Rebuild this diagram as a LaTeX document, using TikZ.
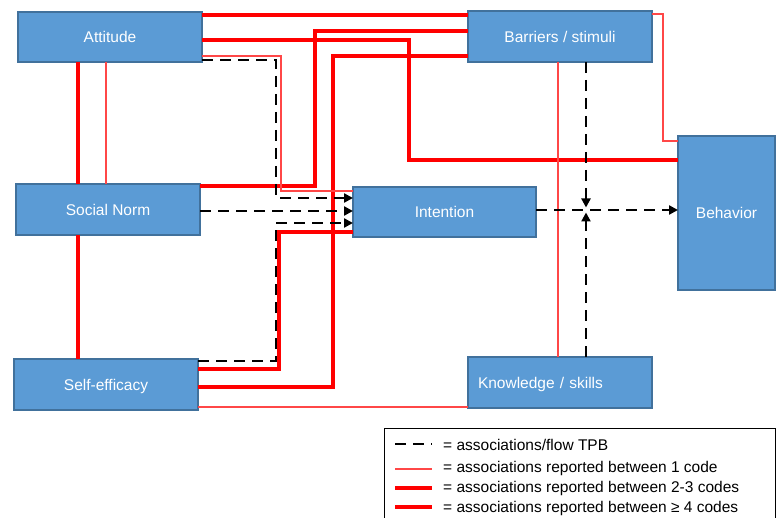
\documentclass[tikz,border=0pt]{standalone}
\usepackage{fontspec}
\setmainfont{Liberation Sans}
\usetikzlibrary{arrows.meta}
\definecolor{boxblue}{HTML}{5B9BD5}
\definecolor{boxedge}{HTML}{41719C}
\definecolor{lred}{HTML}{FF0000}
\begin{document}
\begin{tikzpicture}[x=1pt,y=-1pt,
  box/.style={draw=boxedge, fill=boxblue, line width=1.4pt, text=white,
    font=\fontsize{15.5}{18}\selectfont, inner sep=0pt, outer sep=0pt,
    text height=11.1pt, text depth=0pt},
  thn/.style={draw=lred!72, line width=1.3pt},
  med/.style={draw=lred, line width=3.1pt},
  thk/.style={draw=lred, line width=4.9pt},
  dsh/.style={draw=black, line width=2.9pt, dash pattern=on 11pt off 7pt},
  tip/.style={-{Triangle[length=9pt,width=9pt]}},
  legtext/.style={anchor=base west, inner sep=0pt, font=\fontsize{15.5}{18}\selectfont}
]
\useasboundingbox (0,0) rectangle (776,518);

% boxes
\node[box, minimum width=184, minimum height=50] (att) at (110,37) {Attitude};
\node[box, minimum width=184, minimum height=51] (sn) at (108,209.5) {Social Norm};
\node[box, minimum width=184, minimum height=51] (se) at (106,384.5) {Self-efficacy};
\node[box, minimum width=183, minimum height=50] (int) at (444.5,212) {Intention};
\node[box, minimum width=184, minimum height=51] (bar) at (560,36.5) {Barriers / stimuli};
\node[box, minimum width=97, minimum height=154] (beh) at (726.5,213) {Behavior};
\node[box, minimum height=51, text width=164pt, inner xsep=10pt, align=left] (kn) at (560,382.5) {Knowledge / skills};

% red associations
\draw[med] (att.east |- 0,15) -- (bar.west |- 0,15);
\draw[thk] (att.east |- 0,40) -| (409,160) -- (beh.west |- 0,160);
\draw[thk] (sn.east |- 0,186) -| (315,31) -- (bar.west |- 0,31);
\draw[thk] (se.east |- 0,387) -| (333,56) -- (bar.west |- 0,56);
\draw[thn] (att.east |- 0,56) -| (281,191) -- (int.west |- 0,191);
\draw[med] (se.east |- 0,369) -| (279,232) -- (int.west |- 0,232);
\draw[thn] (se.east |- 0,407) -- (kn.west |- 0,407);
\draw[thk] (att.south -| 78,0) -- (sn.north -| 78,0);
\draw[thn] (att.south -| 106,0) -- (sn.north -| 106,0);
\draw[thk] (sn.south -| 78,0) -- (se.north -| 78,0);
\draw[thn] (bar.east |- 0,14) -| (663,141) -- (beh.west |- 0,141);
\draw[thn] (bar.south -| 558,0) -- (kn.north -| 558,0);

% TPB flow
\draw[dsh,tip] (att.east |- 0,60) -| (276,198) -- (int.west |- 0,198);
\draw[dsh,tip] (sn.east |- 0,211) -- (int.west |- 0,211);
\draw[dsh,tip] (se.east |- 0,361) -| (276,223) -- (int.west |- 0,223);
\draw[dsh,tip] (int.east |- 0,210) -- (beh.west |- 0,210);
\coordinate (jt) at (586,207.5);
\coordinate (jb) at (586,212.5);
\draw[dsh,tip] (bar.south -| jt) -- (jt);
\draw[dsh,tip] (kn.north -| jb) -- (jb);

% legend
\draw[black, line width=1pt] (384,520) -- (384,428) -- (775,428) -- (775,520);
\coordinate (l1a) at (395,444); \coordinate (l1b) at (432,444);
\coordinate (l2a) at (395,469); \coordinate (l2b) at (432,469);
\coordinate (l3a) at (395,488); \coordinate (l3b) at (432,488);
\coordinate (l4a) at (395,507); \coordinate (l4b) at (432,507);
\draw[dsh] (l1a) -- (l1b);
\draw[thn] (l2a) -- (l2b);
\draw[med] (l3a) -- (l3b);
\draw[thk] (l4a) -- (l4b);
\node[legtext] (t1) at (443,450.5) {= associations/flow TPB};
\node[legtext] (t2) at (443,472) {= associations reported between 1 code};
\node[legtext] (t3) at (443,492.5) {= associations reported between 2-3 codes};
\node[legtext] (t4) at (443,512.5) {= associations reported between ≥ 4 codes};
\end{tikzpicture}
\end{document}
